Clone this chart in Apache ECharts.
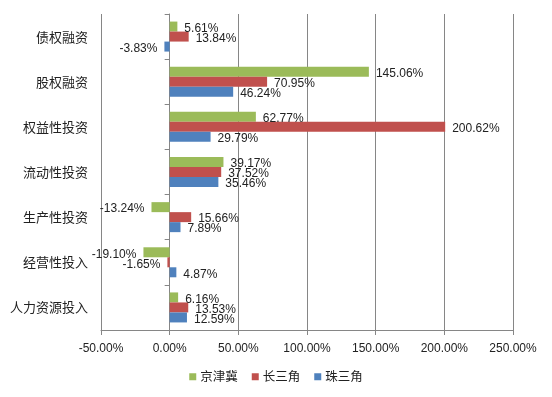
<html>
    <head>
        <meta charset="utf-8">
        <script src='https://cdn.jsdelivr.net/npm/echarts@6/dist/echarts.min.js'></script>
    </head>
    <body>
        <style>
            html, body, #main {
                width: 100%;
                height: 100%;
                margin: 0;
                background: #fff;
            }
        </style>
        <div id='main'></div>
        <script>
            var categories = ['债权融资', '股权融资', '权益性投资', '流动性投资', '生产性投资', '经营性投入', '人力资源投入'];
            var seriesNames = ['京津冀', '长三角', '珠三角'];
            var jingjinji = [5.61, 145.06, 62.77, 39.17, -13.24, -19.10, 6.16];
            var changsanjiao = [13.84, 70.95, 200.62, 37.52, 15.66, -1.65, 13.53];
            var zhusanjiao = [-3.83, 46.24, 29.79, 35.46, 7.89, 4.87, 12.59];
            var colors = ['#9BBB59', '#C0504D', '#4F81BD'];

            var gray = '#868686';
            var labelFont = "'Liberation Sans', sans-serif";
            var cjkFont = "'Noto Sans CJK SC', sans-serif";

            function pct(v) {
                return v.toFixed(2) + '%';
            }

            function makeData(values) {
                return values.map(function (v) {
                    return { value: v, label: { position: v < 0 ? 'left' : 'right' } };
                });
            }

            var chart = echarts.init(document.getElementById('main'));

            var option = {
                animation: false,
                color: colors,
                legend: {
                    bottom: 9,
                    left: 'center',
                    icon: 'rect',
                    itemWidth: 7,
                    itemHeight: 7,
                    itemGap: 14,
                    textStyle: { fontSize: 12.5, fontFamily: cjkFont, color: '#222', padding: [0, 0, 0, -1] },
                    data: seriesNames
                },
                grid: { left: 101, right: 39, top: 14, bottom: 67 },
                xAxis: {
                    type: 'value',
                    min: -50,
                    max: 250,
                    interval: 50,
                    axisLine: { show: true, onZero: false, lineStyle: { color: gray } },
                    axisTick: { show: true, length: 5, lineStyle: { color: gray } },
                    splitLine: { show: true, lineStyle: { color: gray } },
                    axisLabel: {
                        margin: 13,
                        fontSize: 12,
                        fontFamily: labelFont,
                        color: '#222',
                        formatter: pct
                    }
                },
                yAxis: [{
                    type: 'category',
                    data: categories,
                    inverse: true,
                    axisLine: { show: false, onZero: false },
                    axisTick: { show: false },
                    axisLabel: { margin: 13, fontSize: 13, fontFamily: cjkFont, color: '#222' }
                }, {
                    type: 'category',
                    data: categories,
                    inverse: true,
                    position: 'left',
                    axisLine: { show: true, onZero: true, lineStyle: { color: gray } },
                    axisTick: { show: true, length: 5, lineStyle: { color: gray } },
                    axisLabel: { show: false }
                }],
                series: [jingjinji, changsanjiao, zhusanjiao].map(function (vals, i) {
                    return {
                        name: seriesNames[i],
                        type: 'bar',
                        yAxisIndex: 0,
                        barWidth: 10,
                        barGap: '0%',
                        data: makeData(vals),
                        label: {
                            show: true,
                            distance: 7,
                            offset: [0, 2],
                            fontSize: 12,
                            fontFamily: labelFont,
                            color: '#222',
                            formatter: function (p) { return pct(p.value); }
                        }
                    };
                })
            };

            chart.setOption(option);
            window.onresize = chart.resize;
        </script>
    </body>
</html>
